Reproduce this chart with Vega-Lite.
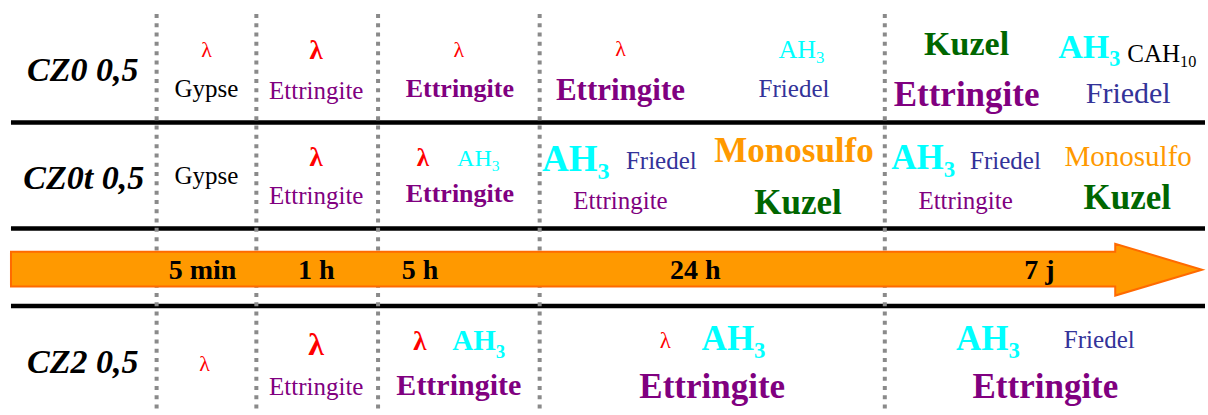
{
  "$schema": "https://vega.github.io/schema/vega-lite/v6.json",
  "width": 1208,
  "height": 415,
  "padding": 0,
  "autosize": {"type": "fit", "contains": "padding"},
  "background": "white",
  "config": {"view": {"stroke": null}, "text": {"font": "Liberation Serif", "baseline": "alphabetic"}},
  "datasets": {
    "hlines": [{"x": 11, "x2": 1208, "y": 123}, {"x": 11, "x2": 1208, "y": 229.5}, {"x": 11, "x2": 1208, "y": 307.5}],
    "vlines": [{"x": 157, "y": 14, "y2": 415}, {"x": 257, "y": 14, "y2": 415}, {"x": 379, "y": 14, "y2": 415}, {"x": 541, "y": 14, "y2": 415}, {"x": 887, "y": 14, "y2": 415}],
    "arrow": [{"x": 11, "y": 253, "y2": 288}, {"x": 1118, "y": 253, "y2": 288}, {"x": 1118.01, "y": 245, "y2": 297}, {"x": 1205, "y": 271, "y2": 271}],
    "rows": [{"t": "CZ0 0,5", "x": 83, "y": 81}, {"t": "CZ0t 0,5", "x": 84, "y": 190}, {"t": "CZ2 0,5", "x": 83, "y": 375}],
    "times": [{"t": "5 min", "x": 203, "y": 280}, {"t": "1 h", "x": 317, "y": 280}, {"t": "5 h", "x": 421, "y": 280}, {"t": "24 h", "x": 697, "y": 280}, {"t": "7 j", "x": 1042, "y": 280}],
    "ph": [
      {"p": "λ", "m": "λ", "sub": "", "x": 207, "y": 57, "s": 22, "b": 0},
      {"p": "Gypse", "m": "Gypse", "sub": "", "x": 207, "y": 97, "s": 25, "b": 0},
      {"p": "λ", "m": "λ", "sub": "", "x": 317, "y": 59, "s": 27, "b": 1},
      {"p": "Ettringite", "m": "Ettringite", "sub": "", "x": 317, "y": 99, "s": 25, "b": 0},
      {"p": "λ", "m": "λ", "sub": "", "x": 460, "y": 57, "s": 22, "b": 0},
      {"p": "Ettringite", "m": "Ettringite", "sub": "", "x": 461, "y": 97, "s": 26, "b": 1},
      {"p": "λ", "m": "λ", "sub": "", "x": 622, "y": 56, "s": 22, "b": 0},
      {"p": "Ettringite", "m": "Ettringite", "sub": "", "x": 622, "y": 100, "s": 31, "b": 1},
      {"p": "AH3", "m": "AH", "sub": "3", "x": 818, "y": 58, "s": 26, "b": 0},
      {"p": "Friedel", "m": "Friedel", "sub": "", "x": 796, "y": 97, "s": 25, "b": 0},
      {"p": "Kuzel", "m": "Kuzel", "sub": "", "x": 969, "y": 55, "s": 34, "b": 1},
      {"p": "Ettringite", "m": "Ettringite", "sub": "", "x": 969, "y": 107, "s": 35, "b": 1},
      {"p": "AH3", "m": "AH", "sub": "3", "x": 1112, "y": 58, "s": 34, "b": 1},
      {"p": "CAH10", "m": "CAH", "sub": "10", "x": 1183, "y": 62, "s": 25, "b": 0},
      {"p": "Friedel", "m": "Friedel", "sub": "", "x": 1131, "y": 103, "s": 30, "b": 0},
      {"p": "Gypse", "m": "Gypse", "sub": "", "x": 207, "y": 185, "s": 25, "b": 0},
      {"p": "λ", "m": "λ", "sub": "", "x": 317, "y": 167, "s": 27, "b": 1},
      {"p": "Ettringite", "m": "Ettringite", "sub": "", "x": 317, "y": 205, "s": 25, "b": 0},
      {"p": "λ", "m": "λ", "sub": "", "x": 424, "y": 167, "s": 25, "b": 1},
      {"p": "AH3", "m": "AH", "sub": "3", "x": 493, "y": 167, "s": 24, "b": 0},
      {"p": "Ettringite", "m": "Ettringite", "sub": "", "x": 461, "y": 203, "s": 26, "b": 1},
      {"p": "AH3", "m": "AH", "sub": "3", "x": 599, "y": 172, "s": 37, "b": 1},
      {"p": "Friedel", "m": "Friedel", "sub": "", "x": 663, "y": 170, "s": 25, "b": 0},
      {"p": "Ettringite", "m": "Ettringite", "sub": "", "x": 622, "y": 210, "s": 25, "b": 0},
      {"p": "Monosulfo", "m": "Monosulfo", "sub": "", "x": 796, "y": 163, "s": 35, "b": 1},
      {"p": "Kuzel", "m": "Kuzel", "sub": "", "x": 800, "y": 215, "s": 35, "b": 1},
      {"p": "AH3", "m": "AH", "sub": "3", "x": 946, "y": 170, "s": 35, "b": 1},
      {"p": "Friedel", "m": "Friedel", "sub": "", "x": 1008, "y": 170, "s": 25, "b": 0},
      {"p": "Ettringite", "m": "Ettringite", "sub": "", "x": 968, "y": 210, "s": 25, "b": 0},
      {"p": "Monosulfo", "m": "Monosulfo", "sub": "", "x": 1131, "y": 167, "s": 29, "b": 0},
      {"p": "Kuzel", "m": "Kuzel", "sub": "", "x": 1130, "y": 210, "s": 35, "b": 1},
      {"p": "λ", "m": "λ", "sub": "", "x": 205, "y": 373, "s": 22, "b": 0},
      {"p": "λ", "m": "λ", "sub": "", "x": 317, "y": 357, "s": 32, "b": 1},
      {"p": "Ettringite", "m": "Ettringite", "sub": "", "x": 317, "y": 397, "s": 25, "b": 0},
      {"p": "λ", "m": "λ", "sub": "", "x": 421, "y": 352, "s": 27, "b": 1},
      {"p": "AH3", "m": "AH", "sub": "3", "x": 497, "y": 352, "s": 29, "b": 1},
      {"p": "Ettringite", "m": "Ettringite", "sub": "", "x": 460, "y": 397, "s": 30, "b": 1},
      {"p": "λ", "m": "λ", "sub": "", "x": 667, "y": 350, "s": 23, "b": 0},
      {"p": "AH3", "m": "AH", "sub": "3", "x": 756, "y": 352, "s": 35, "b": 1},
      {"p": "Ettringite", "m": "Ettringite", "sub": "", "x": 714, "y": 400, "s": 35, "b": 1},
      {"p": "AH3", "m": "AH", "sub": "3", "x": 1011, "y": 352, "s": 35, "b": 1},
      {"p": "Friedel", "m": "Friedel", "sub": "", "x": 1102, "y": 350, "s": 25, "b": 0},
      {"p": "Ettringite", "m": "Ettringite", "sub": "", "x": 1048, "y": 400, "s": 35, "b": 1}
    ]
  },
  "encoding": {
    "x": {"field": "x", "type": "quantitative", "scale": {"domain": [0, 1208], "nice": false, "zero": false}, "axis": null},
    "y": {"field": "y", "type": "quantitative", "scale": {"domain": [0, 415], "reverse": true, "nice": false, "zero": false}, "axis": null}
  },
  "layer": [
    {
      "data": {"name": "hlines"},
      "mark": {"type": "rule", "color": "#000000", "strokeWidth": 4.5},
      "encoding": {"x2": {"field": "x2"}}
    },
    {
      "data": {"name": "vlines"},
      "mark": {"type": "rule", "color": "#8a8a8a", "strokeWidth": 4, "strokeDash": [4, 5.3]},
      "encoding": {"y2": {"field": "y2"}}
    },
    {
      "data": {"name": "arrow"},
      "mark": {"type": "area", "fill": "#FF9900", "stroke": "#FF6A00", "strokeWidth": 2, "fillOpacity": 1, "interpolate": "linear"},
      "encoding": {"y2": {"field": "y2"}}
    },
    {
      "data": {"name": "rows"},
      "mark": {"type": "text", "fontWeight": "bold", "fontStyle": "italic", "fontSize": 34, "color": "#000000"},
      "encoding": {"text": {"field": "t"}}
    },
    {
      "data": {"name": "times"},
      "mark": {"type": "text", "fontWeight": "bold", "fontSize": 28, "color": "#000000"},
      "encoding": {"text": {"field": "t"}}
    },
    {
      "data": {"name": "ph"},
      "transform": [{"filter": "datum.sub == '' && datum.b == 0"}],
      "mark": {"type": "text", "align": "center"},
      "encoding": {
        "text": {"field": "m"},
        "size": {"field": "s", "type": "quantitative", "scale": null},
        "color": {"field": "p", "type": "nominal", "legend": null, "scale": {"domain": ["λ", "Gypse", "Ettringite", "AH3", "Friedel", "Kuzel", "Monosulfo", "CAH10"], "range": ["#FF0000", "#000000", "#800080", "#00FFFF", "#333399", "#006600", "#FF9900", "#000000"]}}
      }
    },
    {
      "data": {"name": "ph"},
      "transform": [{"filter": "datum.sub == '' && datum.b == 1"}],
      "mark": {"type": "text", "align": "center", "fontWeight": "bold"},
      "encoding": {
        "text": {"field": "m"},
        "size": {"field": "s", "type": "quantitative", "scale": null},
        "color": {"field": "p", "type": "nominal", "legend": null}
      }
    },
    {
      "data": {"name": "ph"},
      "transform": [{"filter": "datum.sub != '' && datum.b == 0"}],
      "mark": {"type": "text", "align": "right"},
      "encoding": {
        "text": {"field": "m"},
        "size": {"field": "s", "type": "quantitative", "scale": null},
        "color": {"field": "p", "type": "nominal", "legend": null}
      }
    },
    {
      "data": {"name": "ph"},
      "transform": [{"filter": "datum.sub != '' && datum.b == 1"}],
      "mark": {"type": "text", "align": "right", "fontWeight": "bold"},
      "encoding": {
        "text": {"field": "m"},
        "size": {"field": "s", "type": "quantitative", "scale": null},
        "color": {"field": "p", "type": "nominal", "legend": null}
      }
    },
    {
      "data": {"name": "ph"},
      "transform": [{"filter": "datum.sub != '' && datum.b == 0"}],
      "mark": {"type": "text", "align": "left", "dy": 5},
      "encoding": {
        "text": {"field": "sub"},
        "size": {"field": "s", "type": "quantitative", "scale": {"type": "linear", "domain": [0, 100], "range": [0, 65]}, "legend": null},
        "color": {"field": "p", "type": "nominal", "legend": null}
      }
    },
    {
      "data": {"name": "ph"},
      "transform": [{"filter": "datum.sub != '' && datum.b == 1"}],
      "mark": {"type": "text", "align": "left", "dy": 8, "fontWeight": "bold"},
      "encoding": {
        "text": {"field": "sub"},
        "size": {"field": "s", "type": "quantitative", "scale": {"type": "linear", "domain": [0, 100], "range": [0, 65]}, "legend": null},
        "color": {"field": "p", "type": "nominal", "legend": null}
      }
    }
  ]
}
